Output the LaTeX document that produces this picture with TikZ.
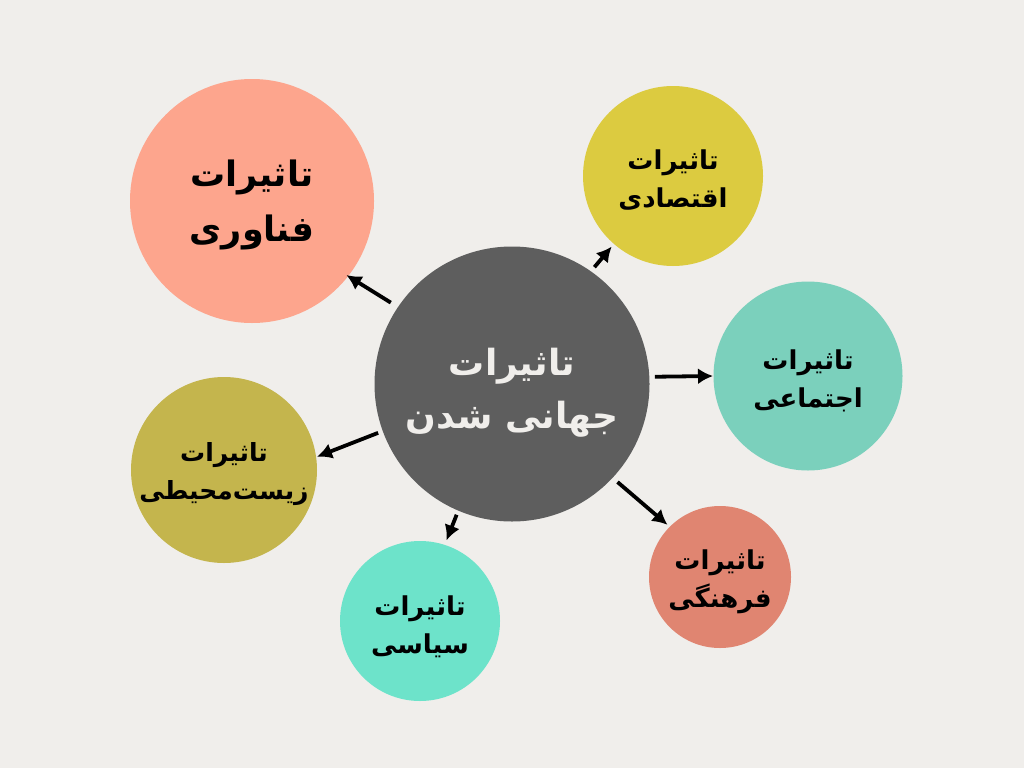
\documentclass[tikz,border=0pt]{standalone}
\usepackage{fontspec}
\TeXXeTstate=1
\newfontfamily\arabicfont[Script=Arabic]{DejaVu Sans}
\usetikzlibrary{arrows.meta}
\definecolor{bg}{HTML}{F0EEEB}
\definecolor{cgray}{HTML}{5E5E5E}
\definecolor{csalmon}{HTML}{FDA58D}
\definecolor{cyellow}{HTML}{DCCB40}
\definecolor{cteal}{HTML}{7BD0BC}
\definecolor{ccoral}{HTML}{E08571}
\definecolor{caqua}{HTML}{6DE3CA}
\definecolor{colive}{HTML}{C4B54D}
\tikzset{
  bubble/.style={circle,inner sep=0pt,outer sep=0pt,draw=none},
  label/.style={align=center,inner sep=0pt},
  smalltxt/.style={font=\arabicfont\bfseries\fontsize{26}{38}\selectfont},
  conn/.style={line width=3.8pt,-{Latex[length=15pt,width=16pt]},black}
}
\begin{document}
\begin{tikzpicture}[x=1pt,y=-1pt]
\fill[bg] (0,0) rectangle (1024,768);
\useasboundingbox (0,0) rectangle (1024,768);
% circles
\node[bubble,fill=cgray,minimum size=275pt] (c) at (512,384) {};
\node[bubble,fill=csalmon,minimum size=244pt] (t) at (252,201) {};
\node[bubble,fill=cyellow,minimum size=180pt] (e) at (673,176) {};
\node[bubble,fill=cteal,minimum size=189pt] (s) at (808,376) {};
\node[bubble,fill=ccoral,minimum size=142pt] (f) at (720,577) {};
\node[bubble,fill=caqua,minimum size=160pt] (p) at (420,621) {};
\node[bubble,fill=colive,minimum size=186pt] (z) at (224,470) {};
% texts
\node[label,text={rgb,255:red,240;green,238;blue,235},font=\arabicfont\bfseries\fontsize{36}{53}\selectfont] (ct) at (512,393) {\beginR تاثیرات\endR\\\beginR جهانی شدن\endR};
\node[label,font=\arabicfont\bfseries\fontsize{35}{55}\selectfont] (tt) at (252,205) {\beginR تاثیرات\endR\\\beginR فناوری\endR};
\node[label,smalltxt] (et) at (673,180) {\beginR تاثیرات\endR\\\beginR اقتصادی\endR};
\node[label,smalltxt] (st) at (808,381) {\beginR تاثیرات\endR\\\beginR اجتماعی\endR};
\node[label,smalltxt] (ft) at (720,582) {\beginR تاثیرات\endR\\\beginR فرهنگی\endR};
\node[label,smalltxt] (pt) at (420,627) {\beginR تاثیرات\endR\\\beginR سیاسی\endR};
\node[label,font=\arabicfont\bfseries\fontsize{25}{38}\selectfont] (zt) at (224,474) {\beginR تاثیرات\endR\\\beginR زیست‌محیطی\endR};
% connectors
\draw[conn,shorten <=8.5pt,shorten >=-2pt] (c.146) -- (t.-38);
\draw[conn,shorten <=5.5pt,shorten >=3.5pt] (c.55) -- (e.-131);
\draw[conn,shorten <=5.5pt,shorten >=0.5pt] (c.3) -- (s.180.5);
\draw[conn,shorten <=6.5pt,shorten >=3pt] (c.-43) -- (f.135.5);
\draw[conn,shorten <=4.5pt,shorten >=5pt] (c.-113) -- (p.72);
\draw[conn,shorten <=5pt,shorten >=1pt] (c.-160) -- (z.8);
\end{tikzpicture}
\end{document}
